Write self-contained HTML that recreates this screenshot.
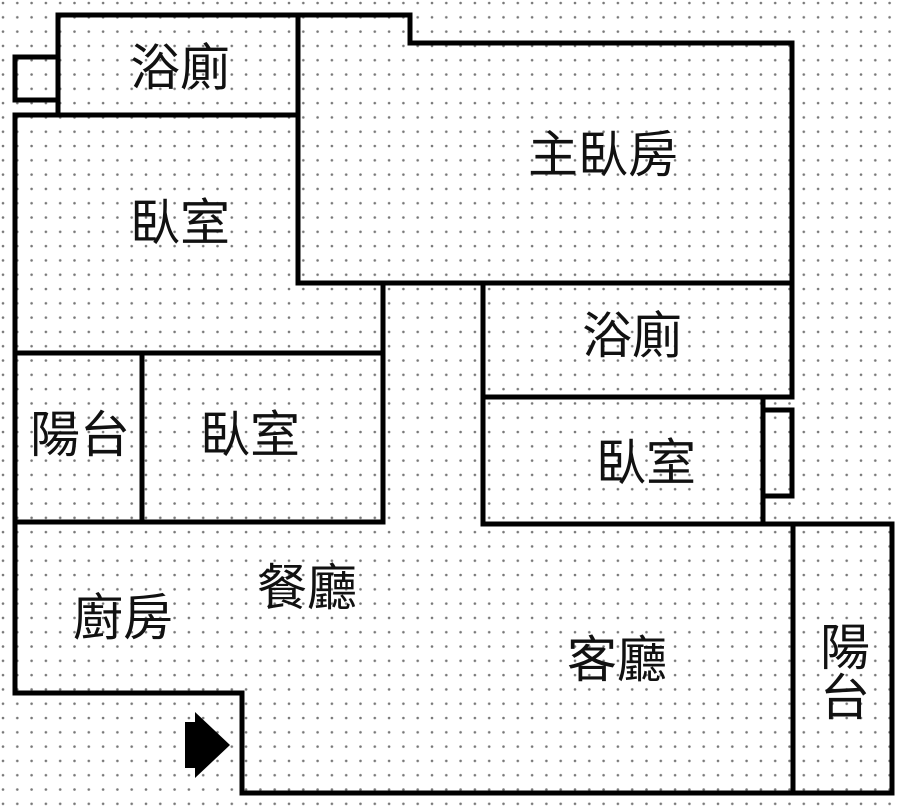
<!DOCTYPE html>
<html><head><meta charset="utf-8"><style>
html,body{margin:0;padding:0;background:#fff}
svg{display:block}
text{font-family:"Liberation Sans","Noto Sans CJK TC",sans-serif;font-size:50px;fill:#111}
</style></head><body>
<svg width="900" height="806" viewBox="0 0 900 806" xmlns="http://www.w3.org/2000/svg">
<defs><pattern id="d" width="14.3" height="14.3" patternUnits="userSpaceOnUse" x="1" y="1"><circle cx="2" cy="2" r="1.3" fill="#777"/></pattern></defs>
<rect width="900" height="806" fill="#fff"/>
<rect width="900" height="806" fill="url(#d)"/>
<g fill="none" stroke="#000" stroke-width="5" stroke-linecap="square">
<polyline points="58,115 58,15 410,15 410,43 792,43 792,397"/>
<polyline points="58,57 15,57 15,100 58,100"/>
<line x1="298" y1="15" x2="298" y2="283"/>
<line x1="15" y1="115" x2="298" y2="115"/>
<line x1="298" y1="283" x2="792" y2="283"/>
<polyline points="15,115 15,693 242,693 242,793 892,793 892,524 483,524 483,283"/>
<line x1="383" y1="283" x2="383" y2="522"/>
<line x1="15" y1="353" x2="383" y2="353"/>
<line x1="15" y1="522" x2="383" y2="522"/>
<line x1="142" y1="353" x2="142" y2="522"/>
<line x1="483" y1="397" x2="792" y2="397"/>
<line x1="763" y1="397" x2="763" y2="524"/>
<polyline points="763,410 792,410 792,496 763,496"/>
<line x1="793" y1="524" x2="793" y2="793"/>
</g>
<polygon points="185,722 195,722 195,712 230,745 195,778 195,768 185,768" fill="#000"/>
<g text-anchor="middle" dominant-baseline="central">
<text x="180" y="68">浴廁</text>
<text x="603" y="155">主臥房</text>
<text x="180" y="223">臥室</text>
<text x="632" y="336">浴廁</text>
<text x="80" y="435">陽台</text>
<text x="250" y="435">臥室</text>
<text x="646" y="463">臥室</text>
<text x="307" y="588">餐廳</text>
<text x="123" y="618">廚房</text>
<text x="617" y="660">客廳</text>
<text x="845" y="648">陽</text>
<text x="845" y="698">台</text>
</g>
</svg>
</body></html>
